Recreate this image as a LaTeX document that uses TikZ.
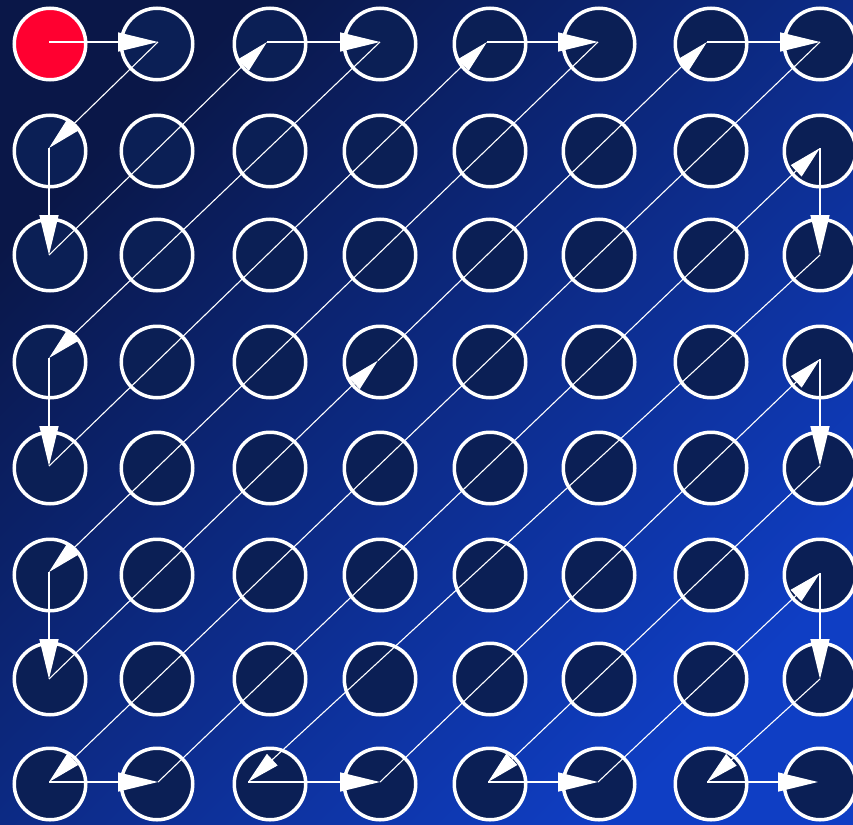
\documentclass[tikz,border=0pt]{standalone}
\usetikzlibrary{arrows.meta,calc}
\definecolor{bgA}{HTML}{0A1748}
\definecolor{bgB}{HTML}{0F3EC4}
\definecolor{cellfill}{HTML}{0B1F55}
\definecolor{startred}{HTML}{FF0030}
\begin{document}
\begin{tikzpicture}[x=1pt,y=-1pt,
  cell/.style={circle, draw=white, line width=3.5pt, fill=cellfill, minimum size=71.5pt, inner sep=0pt},
  startcell/.style={cell, fill=startred},
  link/.style={draw=white, line width=1.5pt, -{Triangle[length=40pt,width=19pt]}},
  diag/.style={draw=white, line width=1.1pt, -{Triangle[length=33pt,width=15.5pt]}}]
\useasboundingbox (0,0) rectangle (853,824);
\shade[top color=bgA, bottom color=bgB, shading angle=45] (0,0) rectangle (853,824);
% circles
\foreach \x [count=\i from 0] in {50,157,270,380,490,599,711,820}{
  \foreach \y [count=\j from 0] in {44,151,255,362,468,575,679,784}{
    \ifnum\i=0 \ifnum\j=0 \def\sty{startcell}\else\def\sty{cell}\fi\else\def\sty{cell}\fi
    \node[\sty] (c-\i-\j) at (\x,\y) {};
  }
}
% path vertices
\coordinate (v00) at (49,42);  \coordinate (v10) at (158,42);
\coordinate (v20) at (267,42); \coordinate (v30) at (380,42);
\coordinate (v40) at (487,42); \coordinate (v50) at (598,42);
\coordinate (v60) at (707,42); \coordinate (v70) at (820,42);
\coordinate (v01) at (49,148); \coordinate (v02) at (49,255);
\coordinate (v03) at (49,358); \coordinate (v04) at (49,466);
\coordinate (v05) at (49,572); \coordinate (v06) at (49,679);
\coordinate (v07) at (49,782);
\coordinate (v71) at (820,148); \coordinate (v72) at (820,255);
\coordinate (v73) at (820,359); \coordinate (v74) at (820,466);
\coordinate (v75) at (820,573); \coordinate (v76) at (820,679);
\coordinate (v17) at (158,782); \coordinate (v27) at (248,782);
\coordinate (v37) at (380,782); \coordinate (v47) at (488,782);
\coordinate (v57) at (598,782); \coordinate (v67) at (707,782);
\coordinate (v77) at (818,782);
\coordinate (vmid) at ($(v06)!0.5!(v60)$);
% straight steps
\foreach \a/\b in {v00/v10, v01/v02, v20/v30, v03/v04, v40/v50, v05/v06, v60/v70,
                   v07/v17, v71/v72, v27/v37, v73/v74, v47/v57, v75/v76, v67/v77}
  \draw[link] (\a) -- (\b);
% diagonal steps
\foreach \a/\b in {v10/v01, v02/v20, v30/v03, v04/v40, v50/v05, v06/vmid, vmid/v60,
                   v70/v07, v17/v71, v72/v27, v37/v73, v74/v47, v57/v75, v76/v67}
  \draw[diag] (\a) -- (\b);
\end{tikzpicture}
\end{document}
